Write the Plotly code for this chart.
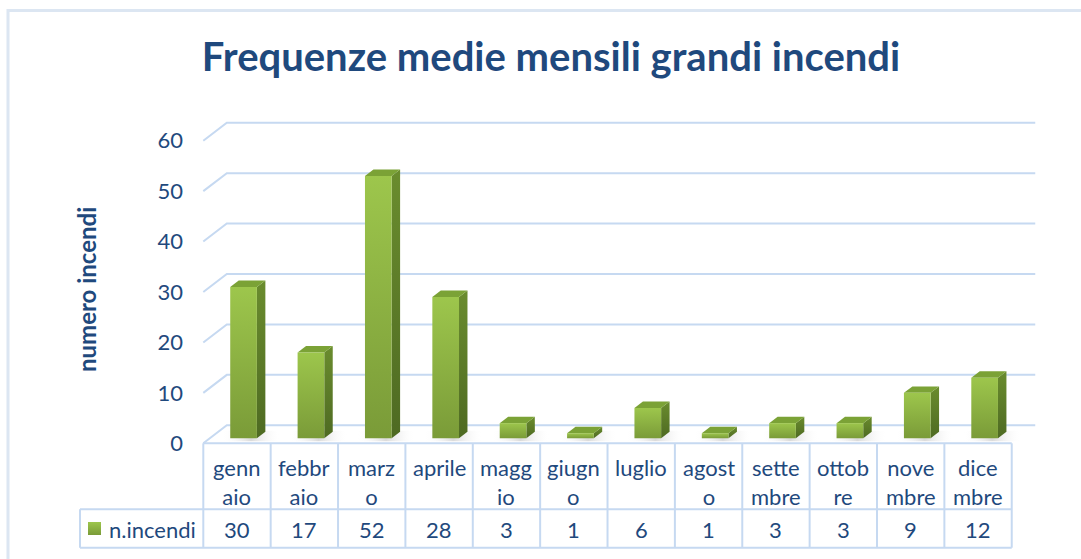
import plotly.graph_objects as go

# ---- data ----
months = ["gennaio", "febbraio", "marzo", "aprile", "maggio", "giugno",
          "luglio", "agosto", "settembre", "ottobre", "novembre", "dicembre"]
month_labels = ["genn<br>aio", "febbr<br>aio", "marz<br>o", "aprile", "magg<br>io", "giugn<br>o",
                "luglio", "agost<br>o", "sette<br>mbre", "ottob<br>re", "nove<br>mbre", "dice<br>mbre"]
n_incendi = [30, 17, 52, 28, 3, 1, 6, 1, 3, 3, 9, 12]
y_ticks = [0, 10, 20, 30, 40, 50, 60]
series_name = "n.incendi"
title_text = "Frequenze medie mensili grandi incendi"
y_title = "numero incendi"

# ---- canvas / scale setup (pixels) ----
W, H = 1081, 559
X0_PX, COL_PX = 203.3, 67.37          # left edge of first column, column width
Y0_PX, UNIT_PX = 443.3, 5.043         # value 0 on the front plane, pixels per unit
DEPTH_DX_PX, DEPTH_DY_PX = 23.5, 18.0  # 3D depth offset of the floor

DXC = DEPTH_DX_PX / COL_PX            # depth offset in category units
DYV = DEPTH_DY_PX / UNIT_PX           # depth offset in value units

x_range = [-0.5 - X0_PX / COL_PX, -0.5 + (W - X0_PX) / COL_PX]
y_range = [-(H - Y0_PX) / UNIT_PX, Y0_PX / UNIT_PX]


def px_x(px):
    return -0.5 + (px - X0_PX) / COL_PX


def px_y(py):
    return (Y0_PX - py) / UNIT_PX


TXT = "#1F497D"
GRID = "#C6D9F1"
FONT = "Lato"

fig = go.Figure()

# ---- 3D gridlines (left wall diagonal + back wall) ----
n = len(months)
gx, gy = [], []
for t in y_ticks:
    gx += [-0.5, -0.5 + DXC, n - 0.5 + DXC, None]
    gy += [t, t + DYV, t + DYV, None]
fig.add_trace(go.Scatter(x=gx, y=gy, mode="lines", line=dict(color=GRID, width=2),
                         hoverinfo="skip", showlegend=False))

# ---- 3D bars ----
BAR_W = 0.396
D0, D1 = 0.28, 0.64
FRONT = [[0, "#7A9B38"], [1, "#9DC64C"]]
SIDE = [[0, "#4E6A22"], [1, "#6A8C2E"]]
TOP_C = "#7BA236"

for i, v in enumerate(n_incendi):
    xl0 = i - BAR_W / 2 + D0 * DXC
    xr0 = i + BAR_W / 2 + D0 * DXC
    xl1 = i - BAR_W / 2 + D1 * DXC
    xr1 = i + BAR_W / 2 + D1 * DXC
    b0, b1 = D0 * DYV, D1 * DYV
    t0, t1 = v + b0, v + b1
    # soft floor shadow
    fig.add_trace(go.Scatter(
        x=[xl0 - 0.12, xr1 + 0.22, xr1 + 0.22, xl0 - 0.12, xl0 - 0.12],
        y=[b0 - 0.6, b0 - 0.6, b1 + 0.2, b1 + 0.2, b0 - 0.6],
        mode="lines", line=dict(width=0), fill="toself",
        fillgradient=dict(type="horizontal",
                          colorscale=[[0, "rgba(255,255,255,0)"], [0.5, "rgba(150,150,150,0.35)"],
                                      [1, "rgba(255,255,255,0)"]]),
        hoverinfo="skip", showlegend=False))
    # right side face
    fig.add_trace(go.Scatter(
        x=[xr0, xr1, xr1, xr0, xr0], y=[b0, b1, t1, t0, b0],
        mode="lines", line=dict(width=0), fill="toself",
        fillgradient=dict(type="vertical", colorscale=SIDE),
        hoverinfo="skip", showlegend=False))
    # top face
    fig.add_trace(go.Scatter(
        x=[xl0, xr0, xr1, xl1, xl0], y=[t0, t0, t1, t1, t0],
        mode="lines", line=dict(width=0), fill="toself", fillcolor=TOP_C,
        hoverinfo="skip", showlegend=False))
    # front face
    fig.add_trace(go.Scatter(
        x=[xl0, xr0, xr0, xl0, xl0], y=[b0, b0, t0, t0, b0],
        mode="lines", line=dict(width=0), fill="toself",
        fillgradient=dict(type="vertical", colorscale=FRONT),
        name=series_name, text=[months[i]] * 5,
        hovertemplate="%{text}: " + str(v) + "<extra></extra>", showlegend=False))

# ---- data table ----
row1, row2 = px_y(509.3), px_y(547.7)
leg_left = px_x(80)
tx, ty = [], []
for k in range(n + 1):
    tx += [k - 0.5, k - 0.5, None]
    ty += [0, row2, None]
tx += [leg_left, leg_left, None]
ty += [row1, row2, None]
for yy, xs in [(0, -0.5), (row1, leg_left), (row2, leg_left)]:
    tx += [xs, n - 0.5, None]
    ty += [yy, yy, None]
fig.add_trace(go.Scatter(x=tx, y=ty, mode="lines", line=dict(color=GRID, width=2),
                         hoverinfo="skip", showlegend=False))

annotations = []
for i, (lab, v) in enumerate(zip(month_labels, n_incendi)):
    annotations.append(dict(x=i, y=px_y(452), text=lab, showarrow=False,
                            xanchor="center", yanchor="top",
                            font=dict(family=FONT, size=22, color=TXT)))
    annotations.append(dict(x=i, y=px_y(529), text=str(v), showarrow=False,
                            xanchor="center", yanchor="middle",
                            font=dict(family=FONT, size=22, color=TXT)))

# legend key in the table
kx0, kx1 = px_x(88), px_x(101)
ky0, ky1 = px_y(535), px_y(522)
fig.add_trace(go.Scatter(x=[kx0, kx1, kx1, kx0, kx0], y=[ky0, ky0, ky1, ky1, ky0],
                         mode="lines", line=dict(width=0), fill="toself",
                         fillgradient=dict(type="vertical", colorscale=FRONT),
                         hoverinfo="skip", showlegend=False))
annotations.append(dict(x=px_x(107), y=px_y(529), text=series_name, showarrow=False,
                        xanchor="left", yanchor="middle",
                        font=dict(family=FONT, size=22, color=TXT)))

# y-axis title
annotations.append(dict(x=px_x(86), y=px_y(290), text="<b>" + y_title + "</b>", showarrow=False,
                        textangle=-90, xanchor="center", yanchor="middle",
                        font=dict(family=FONT, size=24, color=TXT)))

fig.update_layout(
    width=W, height=H,
    margin=dict(l=0, r=0, t=0, b=0),
    paper_bgcolor="white", plot_bgcolor="white",
    title=dict(text="<b>" + title_text + "</b>", x=551 / W, y=1 - 57 / H,
               xanchor="center", yanchor="middle",
               font=dict(family=FONT, size=40, color=TXT)),
    xaxis=dict(range=x_range, visible=False, fixedrange=True),
    yaxis=dict(range=y_range, tickvals=y_ticks, ticktext=[str(t) for t in y_ticks],
               showgrid=False, zeroline=False, showline=False, ticks="",
               anchor="free", position=183 / W,
               tickfont=dict(family=FONT, size=22, color=TXT), fixedrange=True),
    annotations=annotations,
    shapes=[dict(type="rect", xref="paper", yref="paper",
                 x0=8 / W, x1=1.01, y0=-0.01, y1=1 - 10.5 / H,
                 line=dict(color="#DCE6F2", width=3))],
    showlegend=False,
)

fig.write_html("out.html")
